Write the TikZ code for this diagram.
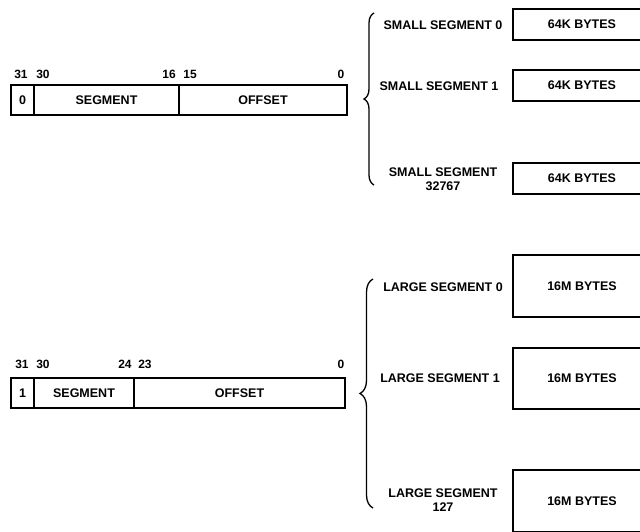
\documentclass[tikz,border=0pt]{standalone}
\usepackage{fontspec}
\setmainfont{Liberation Sans}
\usepackage{tikz}
\usetikzlibrary{decorations.pathreplacing}

\begin{document}
\begin{tikzpicture}[x=1pt,y=-1pt,
    field/.style={draw,line width=1.7pt,minimum height=30pt,inner sep=0pt,
                  font=\fontsize{12.5}{14}\selectfont\bfseries},
    bitno/.style={inner sep=0pt,font=\fontsize{12}{13}\selectfont\bfseries},
    seglabel/.style={inner sep=0pt,align=center,font=\fontsize{12.5}{13.5}\selectfont\bfseries},
    mem/.style={draw,line width=1.7pt,minimum width=138pt,inner sep=0pt,
                font=\fontsize{12.5}{14}\selectfont\bfseries},
    segbrace/.style={decorate,decoration={brace,amplitude=#1},line width=1.3pt}]
  \useasboundingbox (0,0) rectangle (640,531);

  % small segment selector
  \node[field,minimum width=23pt] (sbit) at (22.5,100) {0};
  \node[field,minimum width=145pt] (sseg) at (106.5,100) {SEGMENT};
  \node[field,minimum width=168pt] (soff) at (263,100) {OFFSET};
  \node[bitno] (s31) at (21,74) {31};
  \node[bitno] (s30) at (43,74) {30};
  \node[bitno] (s16) at (169,74) {16};
  \node[bitno] (s15) at (190,74) {15};
  \node[bitno] (s0) at (341,74) {0};

  % large segment selector
  \node[field,minimum width=23pt] (lbit) at (22.5,393) {1};
  \node[field,minimum width=100pt] (lseg) at (84,393) {SEGMENT};
  \node[field,minimum width=211pt] (loff) at (239.5,393) {OFFSET};
  \node[bitno] (l31) at (22,364) {31};
  \node[bitno] (l30) at (43,364) {30};
  \node[bitno] (l24) at (125,364) {24};
  \node[bitno] (l23) at (145,364) {23};
  \node[bitno] (l0) at (341,364) {0};

  % small segments
  \coordinate (stop) at (374,13);
  \coordinate (sbot) at (374,185);
  \draw[segbrace=10pt] (sbot) -- (stop);
  \node[seglabel] (sname0) at (443,25) {SMALL SEGMENT 0};
  \node[seglabel] (sname1) at (439,86) {SMALL SEGMENT 1};
  \node[seglabel] (snamen) at (443,179) {SMALL SEGMENT\\32767};
  \node[mem,minimum height=31pt] (smem0) at (582,24.5) {64K BYTES};
  \node[mem,minimum height=31pt] (smem1) at (582,85.5) {64K BYTES};
  \node[mem,minimum height=31pt] (smemn) at (582,178.5) {64K BYTES};

  % large segments
  \coordinate (ltop) at (373,279);
  \coordinate (lbot) at (373,508);
  \draw[segbrace=13pt] (lbot) -- (ltop);
  \node[seglabel] (lname0) at (443,287) {LARGE SEGMENT 0};
  \node[seglabel] (lname1) at (440,378) {LARGE SEGMENT 1};
  \node[seglabel] (lnamen) at (443,500) {LARGE SEGMENT\\127};
  \node[mem,minimum height=62pt] (lmem0) at (582,286) {16M BYTES};
  \node[mem,minimum height=61pt] (lmem1) at (582,378.5) {16M BYTES};
  \node[mem,minimum height=62pt] (lmemn) at (582,501) {16M BYTES};
\end{tikzpicture}
\end{document}
